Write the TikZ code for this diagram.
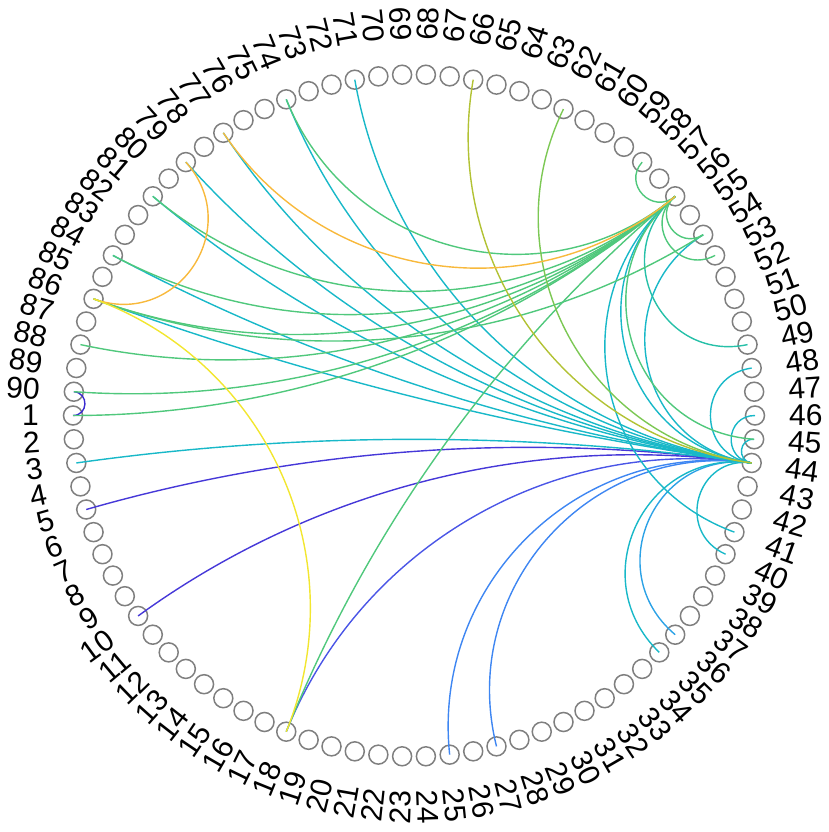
\documentclass[tikz,border=0pt]{standalone}
\usepackage{fontspec}
\setmainfont{Liberation Sans}
\usetikzlibrary{calc}
\definecolor{ring}{HTML}{7F7F7F}
\definecolor{cPa}{HTML}{3A2AD0}
\definecolor{cPb}{HTML}{4638D8}
\definecolor{cPc}{HTML}{4A55E6}
\definecolor{cB}{HTML}{3E86F2}
\definecolor{cLB}{HTML}{2CA2E6}
\definecolor{cC}{HTML}{18B8C8}
\definecolor{cT}{HTML}{26C0A8}
\definecolor{cG}{HTML}{50C87C}
\definecolor{cLG}{HTML}{7CC854}
\definecolor{cOl}{HTML}{B2C234}
\definecolor{cO}{HTML}{F8B93C}
\definecolor{cY}{HTML}{F2E630}
\newcommand{\chd}[3]{%
  \pgfmathsetmacro{\chdd}{mod(4*(#2-#1)+720,360)}%
  \pgfmathsetmacro{\chdd}{\chdd>180 ? 360-\chdd : \chdd}%
  \pgfmathsetmacro{\chdh}{4/3*341*sin(\chdd/2)/(1+sin(\chdd/2))}%
  \draw[chord,#3] (n#1.center) .. controls ($(n#1.center)!\chdh pt!(O)$) and ($(n#2.center)!\chdh pt!(O)$) .. (n#2.center);%
}
\begin{document}
\begin{tikzpicture}[x=1pt,y=1pt,
  dot/.style={circle,draw=ring,line width=1.5pt,minimum size=19pt,inner sep=0pt},
  chord/.style={line width=1.4pt},
  lbl/.style={font=\fontsize{30}{30}\selectfont,inner sep=0pt,text=black}]
\useasboundingbox (0,0) rectangle (829,-832);
\coordinate (O) at (414,-415.5);
\foreach \k in {1,...,90}{
  \pgfmathsetmacro{\ang}{180+4*(\k-1)}
  \pgfmathsetmacro{\nang}{mod(\ang,360)}
  \pgfmathtruncatemacro{\isleft}{(\nang>90)&&(\nang<270) ? 1 : 0}
  \node[dot] (n\k) at ($(O)+(\ang:341)$) {};
  \ifnum\isleft=1
    \pgfmathsetmacro{\rot}{\nang-180}
    \node[lbl,rotate=\rot,anchor=east] (t\k) at ($(O)+(\ang:375)$) {\k};
  \else
    \node[lbl,rotate=\nang,anchor=west] (t\k) at ($(O)+(\ang:375)$) {\k};
  \fi
}
% chords
\chd{90}{1}{cPa}
\chd{44}{5}{cPb}
\chd{44}{10}{cPb}
\chd{44}{18}{cPc}
\chd{44}{25}{cB}
\chd{44}{27}{cB}
\chd{44}{36}{cLB}
\chd{44}{3}{cC}
\chd{44}{35}{cC}
\chd{44}{40}{cC}
\chd{44}{45}{cC}
\chd{44}{46}{cC}
\chd{44}{48}{cC}
\chd{44}{71}{cC}
\chd{44}{74}{cC}
\chd{44}{77}{cC}
\chd{44}{79}{cC}
\chd{44}{81}{cC}
\chd{44}{84}{cC}
\chd{44}{86}{cC}
\chd{44}{56}{cC}
\chd{44}{54}{cC}
\chd{56}{41}{cC}
\chd{56}{49}{cT}
\chd{56}{45}{cG}
\chd{56}{53}{cG}
\chd{56}{54}{cG}
\chd{56}{58}{cG}
\chd{56}{74}{cG}
\chd{56}{81}{cG}
\chd{56}{84}{cG}
\chd{56}{86}{cG}
\chd{56}{88}{cG}
\chd{56}{90}{cG}
\chd{56}{1}{cG}
\chd{56}{18}{cG}
\chd{54}{86}{cG}
\chd{44}{62}{cLG}
\chd{44}{66}{cOl}
\chd{56}{77}{cO}
\chd{79}{86}{cO}
\chd{86}{18}{cY}
\end{tikzpicture}
\end{document}
